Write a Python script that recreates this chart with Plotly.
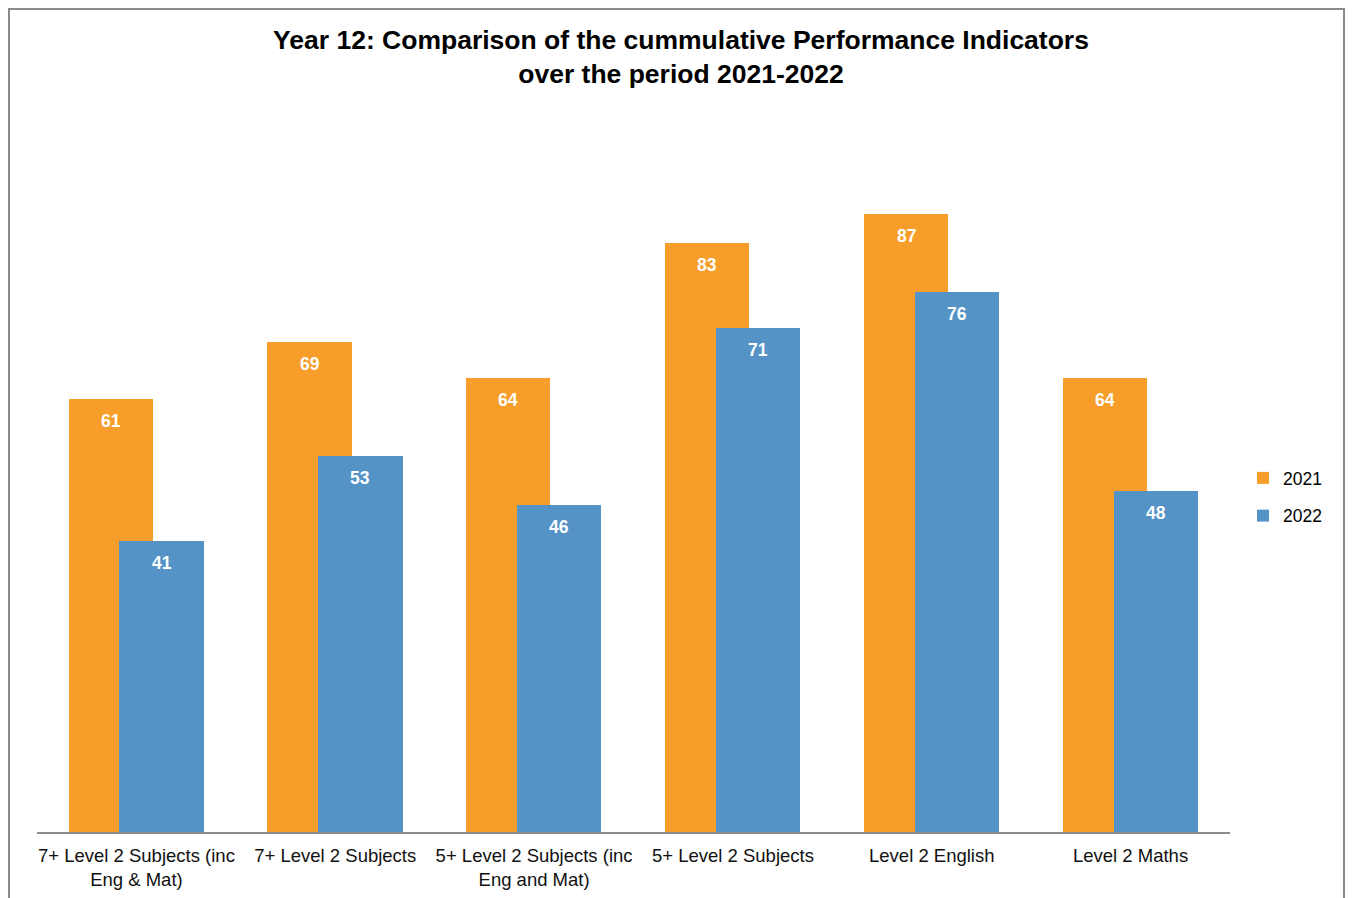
import plotly.graph_objects as go

categories = [
    "7+ Level 2 Subjects (inc<br>Eng & Mat)",
    "7+ Level 2 Subjects",
    "5+ Level 2 Subjects (inc<br>Eng and Mat)",
    "5+ Level 2 Subjects",
    "Level 2 English",
    "Level 2 Maths",
]
series_names = ["2021", "2022"]
values_2021 = [61, 69, 64, 83, 87, 64]
values_2022 = [41, 53, 46, 71, 76, 48]

ORANGE = "#F69E29"
BLUE = "#5593C7"
FONT = "Liberation Sans, Arial, sans-serif"

# page body has an 8px margin; figure is sized so it fits inside the body
W, H = 1337, 890
ML, MR, MT, MB = 29, 115, 114, 66
YMAX = 100

off_a, wid_a = -0.341, 0.423
off_b, wid_b = -0.0855, 0.424

fig = go.Figure()
fig.add_trace(go.Bar(
    x=categories, y=values_2021, name=series_names[0],
    marker=dict(color=ORANGE, line=dict(width=0)),
    offset=off_a, width=wid_a, legendgroup="a",
))
fig.add_trace(go.Bar(
    x=categories, y=values_2022, name=series_names[1],
    marker=dict(color=BLUE, line=dict(width=0)),
    offset=off_b, width=wid_b, legendgroup="b",
))

annotations = []
for i, v in enumerate(values_2021):
    annotations.append(dict(
        x=i + off_a + wid_a / 2, y=v, xref="x", yref="y", text=str(v),
        showarrow=False, yanchor="middle", yshift=-22,
        font=dict(family=FONT, size=17.5, color="white", weight="bold"),
    ))
for i, v in enumerate(values_2022):
    annotations.append(dict(
        x=i + off_b + wid_b / 2, y=v, xref="x", yref="y", text=str(v),
        showarrow=False, yanchor="middle", yshift=-22,
        font=dict(family=FONT, size=17.5, color="white", weight="bold"),
    ))

plot_w = W - ML - MR
plot_h = H - MT - MB
fig.add_shape(
    type="rect", xref="paper", yref="paper",
    x0=(1 - ML) / plot_w, x1=(W - 1 - ML) / plot_w,
    y0=(H - MB - 910) / plot_h, y1=(H - MB - 1) / plot_h,
    line=dict(color="#8a8a8a", width=2), fillcolor="rgba(0,0,0,0)",
    layer="below",
)

fig.update_layout(
    width=W, height=H,
    margin=dict(l=ML, r=MR, t=MT, b=MB, autoexpand=False),
    paper_bgcolor="white", plot_bgcolor="white",
    barmode="overlay",
    title=dict(
        text="Year 12: Comparison of the cummulative Performance Indicators<br>over the period 2021-2022",
        x=(681 - 8) / W, xanchor="center", xref="container",
        y=1 - 41 / H, yanchor="top", yref="container",
        font=dict(family=FONT, size=26.5, color="black", weight="bold"),
    ),
    font=dict(family=FONT, color="black"),
    xaxis=dict(
        type="category", showgrid=False, zeroline=False, automargin=False,
        showline=True, linecolor="#8c8c8c", linewidth=2,
        ticks="", tickfont=dict(family=FONT, size=18.5, color="#111111"),
        ticklabelstandoff=6,
    ),
    yaxis=dict(
        range=[0, YMAX], visible=False, showgrid=False, zeroline=False,
        automargin=False,
    ),
    legend=dict(
        x=1235 / W, xref="container", xanchor="left",
        y=1 - 489 / H, yref="container", yanchor="middle",
        font=dict(family=FONT, size=17.5, color="black"),
        tracegroupgap=12, itemwidth=30,
        bgcolor="rgba(0,0,0,0)",
    ),
    annotations=annotations,
    bargap=0,
)

fig.write_html("out.html")
